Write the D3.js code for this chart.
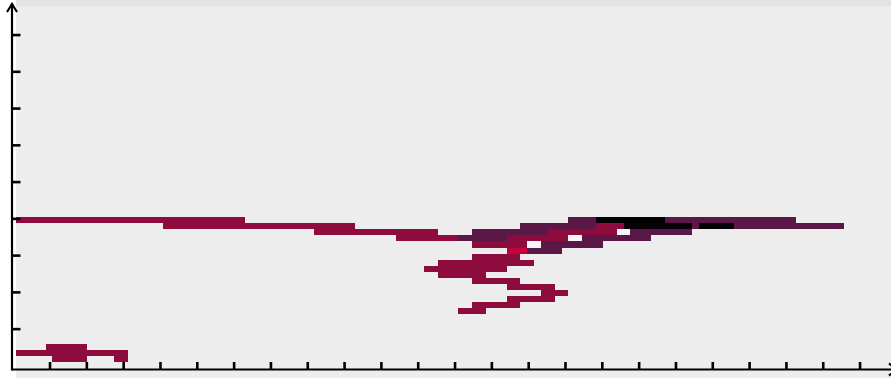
<!DOCTYPE html>
<html>
<head>
<meta charset="utf-8">
<script src="https://cdn.jsdelivr.net/npm/d3@7"></script>
<style>
html,body{margin:0;padding:0;background:#ffffff;}
svg{display:block;}
</style>
</head>
<body>
<svg id="chart" width="891" height="378"></svg>
<script>
// ---- data ----
// tick values along each axis (axes carry no labels)
const xTicks = d3.range(1, 24);
const yTicks = d3.range(1, 10);
// heat levels: 0 = faint, 1 = bright red, 2 = crimson, 3 = purple, 4 = black
const levels = [0, 1, 2, 3, 4];
const levelColors = ["#f6f6f6", "#c8003a", "#8e0c3d", "#5a1847", "#050005"];
// runs of grid cells: [row, firstColumn, lastColumn, level]
const heatRuns = [
  [0, 0, 33, 2], [0, 81, 84, 3], [0, 85, 94, 4], [0, 95, 113, 3],
  [1, 22, 49, 2], [1, 74, 84, 3], [1, 85, 88, 2], [1, 89, 98, 4], [1, 99, 99, 3], [1, 100, 104, 4], [1, 105, 120, 3],
  [2, 44, 61, 2], [2, 67, 77, 3], [2, 78, 87, 2], [2, 88, 89, 0], [2, 90, 98, 3],
  [3, 56, 64, 2], [3, 65, 71, 3], [3, 72, 80, 2], [3, 81, 82, 0], [3, 83, 92, 3],
  [4, 67, 74, 2], [4, 75, 76, 0], [4, 77, 85, 3],
  [5, 72, 74, 1], [5, 75, 79, 3],
  [6, 67, 73, 2],
  [7, 62, 75, 2],
  [8, 60, 71, 2],
  [9, 62, 68, 2],
  [10, 67, 73, 2],
  [11, 72, 78, 2],
  [12, 77, 80, 2],
  [13, 72, 78, 2],
  [14, 67, 73, 2],
  [15, 65, 68, 2],
  [21, 5, 10, 2],
  [22, 0, 16, 2],
  [23, 6, 10, 2], [23, 15, 16, 2]
];

// ---- drawing ----
const W = 891, H = 378;
const svg = d3.select("#chart");

const xAxisScale = d3.scaleLinear().domain([0, 23]).range([13.2, 13.2 + 23 * 36.82]);
const yAxisScale = d3.scaleLinear().domain([0, 9]).range([365.9, 365.9 - 9 * 36.76]);
const colScale = d3.scaleLinear().domain([0, 128]).range([11.2, 11.2 + 128 * 6.88]);
const rowScale = d3.scaleLinear().domain([0, 25]).range([217.3, 217.3 + 25 * 6.04]);
const color = d3.scaleOrdinal().domain(levels).range(levelColors);

// plot background
svg.append("rect").attr("x", 16).attr("y", 0).attr("width", W - 16).attr("height", H).attr("fill", "#ededed");
svg.append("rect").attr("x", 16).attr("y", 0).attr("width", W - 16).attr("height", 6).attr("fill", "#e3e3e3");

svg.append("clipPath").attr("id", "plotClip")
  .append("rect").attr("x", 16).attr("y", 0).attr("width", W - 16).attr("height", H);

const cells = svg.append("g").attr("clip-path", "url(#plotClip)");
cells.selectAll("rect").data(heatRuns).join("rect")
  .attr("x", d => colScale(d[1]))
  .attr("y", d => rowScale(d[0]))
  .attr("width", d => colScale(d[2] + 1) - colScale(d[1]))
  .attr("height", d => rowScale(d[0] + 1) - rowScale(d[0]))
  .attr("fill", d => color(d[3]))
  .attr("shape-rendering", "crispEdges");

// axes
const axisG = svg.append("g").attr("stroke", "#000").attr("fill", "none");
const x0 = 12, yBase = 369.5;
axisG.append("line").attr("x1", x0).attr("x2", W + 5).attr("y1", yBase).attr("y2", yBase).attr("stroke-width", 2.2);
axisG.append("line").attr("x1", x0).attr("x2", x0).attr("y1", yBase + 1).attr("y2", 3).attr("stroke-width", 2.2);
// arrow heads
axisG.append("path").attr("d", `M${x0 - 5},${12} L${x0},${4} L${x0 + 5},${12}`).attr("stroke-width", 2.2).attr("stroke-linejoin", "miter");
axisG.append("path").attr("d", `M${W - 2},${yBase - 6} L${W + 6},${yBase} L${W - 2},${yBase + 6}`).attr("stroke-width", 2.2);

axisG.selectAll(".xt").data(xTicks).join("line").attr("class", "xt")
  .attr("x1", d => xAxisScale(d)).attr("x2", d => xAxisScale(d))
  .attr("y1", yBase).attr("y2", yBase - 7.5).attr("stroke-width", 2.6);
axisG.selectAll(".yt").data(yTicks).join("line").attr("class", "yt")
  .attr("x1", x0).attr("x2", x0 + 8.5)
  .attr("y1", d => yAxisScale(d)).attr("y2", d => yAxisScale(d)).attr("stroke-width", 2.6);
</script>
</body>
</html>
